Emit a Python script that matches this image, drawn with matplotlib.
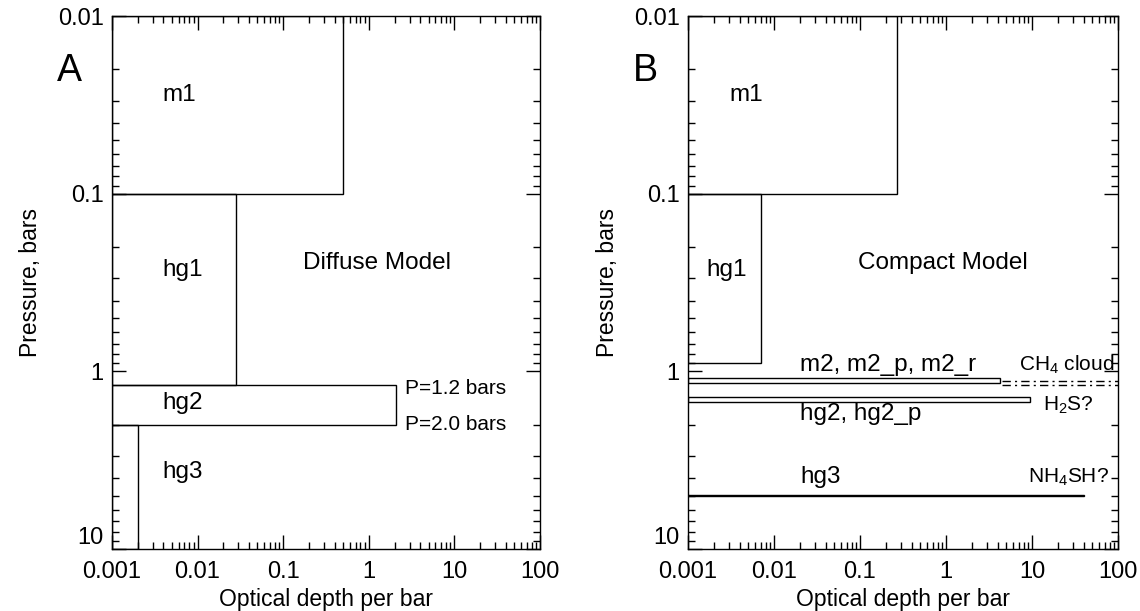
import matplotlib
matplotlib.use("Agg")
import matplotlib.pyplot as plt
from matplotlib.ticker import LogLocator, NullFormatter

plt.rcParams['font.family'] = ['Liberation Sans', 'DejaVu Sans']
plt.rcParams['mathtext.fontset'] = 'custom'
plt.rcParams['mathtext.rm'] = 'Liberation Sans'
plt.rcParams['mathtext.it'] = 'Liberation Sans:italic'

# ---- axis ticks
x_ticks = [0.001, 0.01, 0.1, 1, 10, 100]
x_tick_labels = ['0.001', '0.01', '0.1', '1', '10', '100']
y_ticks = [0.01, 0.1, 1, 10]
y_tick_labels = ['0.01', '0.1', '1', '10']

# ---- panel A : diffuse model layers (max optical depth, top P, bottom P)
a_names = ['m1', 'hg1', 'hg2', 'hg3']
a_tau = [0.5, 0.028, 2.1, 0.002]
a_ptop = [0.01, 0.1, 1.2, 2.0]
a_pbot = [0.1, 1.2, 2.0, 10.0]

# ---- panel B : compact model layers
b_names = ['m1', 'hg1', 'm2', 'hg2', 'hg3']
b_tau = [0.27, 0.007, 4.2, 9.5, 40.0]
b_ptop = [0.01, 0.1, 1.09, 1.39, 4.95]
b_pbot = [0.1, 0.9, 1.16, 1.48, 5.05]

# CH4 cloud dash-dot markers
ch4_p = [1.13, 1.2]
ch4_x = [4.5, 100]


def box(ax, tau, ptop, pbot, lw=1.0):
    xs = [0.001, tau, tau, 0.001, 0.001]
    ys = [ptop, ptop, pbot, pbot, ptop]
    ax.plot(xs, ys, color='black', lw=lw, solid_joinstyle='miter')


def setup(ax):
    ax.set_xscale('log')
    ax.set_yscale('log')
    ax.set_xlim(0.001, 100)
    ax.set_ylim(10, 0.01)
    ax.set_xticks(x_ticks)
    ax.set_xticklabels(x_tick_labels)
    ax.set_yticks(y_ticks)
    ax.set_yticklabels(y_tick_labels)
    ax.xaxis.set_minor_locator(LogLocator(base=10, subs=range(2, 10)))
    ax.yaxis.set_minor_locator(LogLocator(base=10, subs=range(2, 10)))
    ax.xaxis.set_minor_formatter(NullFormatter())
    ax.yaxis.set_minor_formatter(NullFormatter())
    ax.tick_params(which='both', direction='in', top=True, right=True,
                   labelsize=17, width=1.0)
    ax.tick_params(axis='x', which='major', pad=9)
    ax.tick_params(axis='y', which='major', pad=6)
    ax.tick_params(which='major', length=10)
    ax.tick_params(which='minor', length=5)
    # bottom y label sits just above the axis corner
    ax.get_yticklabels()[-1].set_verticalalignment('bottom')
    for s in ax.spines.values():
        s.set_linewidth(1.0)
    ax.set_xlabel('Optical depth per bar', fontsize=16.5, labelpad=3)
    ax.set_ylabel('Pressure, bars', fontsize=16.5, labelpad=11)


fig = plt.figure(figsize=(11.4, 6.11), dpi=100)
axA = fig.add_axes([0.0982, 0.1015, 0.3755, 0.8723])
axB = fig.add_axes([0.6035, 0.1015, 0.3772, 0.8723])

fs = 17.5
fs2 = 15

# Panel A
setup(axA)
for t, p0, p1 in zip(a_tau, a_ptop, a_pbot):
    box(axA, t, p0, p1)
axA.text(-0.128, 0.897, 'A', transform=axA.transAxes, fontsize=27,
         ha='left', va='center')
axA.text(0.0039, 0.028, 'm1', fontsize=fs, va='center')
axA.text(0.0039, 0.27, 'hg1', fontsize=fs, va='center')
axA.text(0.0039, 1.51, 'hg2', fontsize=fs, va='center')
axA.text(0.0039, 3.7, 'hg3', fontsize=fs, va='center')
axA.text(0.17, 0.245, 'Diffuse Model', fontsize=fs, va='center')
axA.text(2.64, 1.25, 'P=1.2 bars', fontsize=fs2, va='center')
axA.text(2.64, 1.99, 'P=2.0 bars', fontsize=fs2, va='center')

# Panel B
setup(axB)
for t, p0, p1 in zip(b_tau, b_ptop, b_pbot):
    box(axB, t, p0, p1)
for p in ch4_p:
    axB.plot(ch4_x, [p, p], color='black', lw=1.0, linestyle=(0, (6, 3, 1.5, 3)))
axB.text(-0.128, 0.897, 'B', transform=axB.transAxes, fontsize=27,
         ha='left', va='center')
axB.text(0.003, 0.028, 'm1', fontsize=fs, va='center')
axB.text(0.00165, 0.27, 'hg1', fontsize=fs, va='center')
axB.text(0.095, 0.245, 'Compact Model', fontsize=fs, va='center')
axB.text(0.02, 0.925, 'm2, m2_p, m2_r', fontsize=fs, va='center')
axB.text(7.0, 0.925, 'CH$_4$ cloud', fontsize=fs2, va='center')
axB.text(0.02, 1.73, 'hg2, hg2_p', fontsize=fs, va='center')
axB.text(13.4, 1.56, 'H$_2$S?', fontsize=fs2, va='center')
axB.text(0.02, 3.95, 'hg3', fontsize=fs, va='center')
axB.text(9.0, 3.95, 'NH$_4$SH?', fontsize=fs2, va='center')

fig.savefig('out.png', dpi=100)
